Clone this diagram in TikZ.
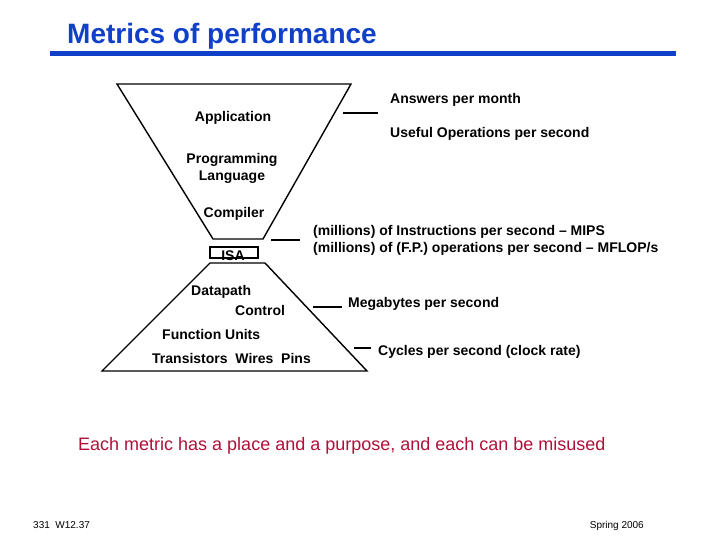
\documentclass[tikz,border=0pt]{standalone}
\usepackage{fontspec}
\setmainfont{Liberation Sans}
\usepackage{xcolor}
\definecolor{sblue}{HTML}{1040C8}
\definecolor{sred}{HTML}{B01038}
\tikzset{
  lbl/.style={font=\bfseries\fontsize{14}{17}\selectfont, inner sep=0pt, align=center},
  lbll/.style={lbl, anchor=west, align=left},
  tick/.style={line width=1.2pt},
  funnel/.style={line width=1.4pt},
}
\begin{document}
\begin{tikzpicture}[x=1pt,y=-1pt]
		\useasboundingbox (0,0) rectangle (720,540);
		% title and bar
		\node[anchor=west, inner sep=0pt, text=sblue, font=\bfseries\fontsize{28}{30}\selectfont] (title) at (67,36) {Metrics of performance};
		\fill[sblue] (50,51) rectangle (676,56);
		% hourglass
		\draw[funnel] (117,84) -- (351,84) -- (263,239) -- (213,239) -- cycle;
		\draw[funnel] (210,263) -- (265,263) -- (367,371) -- (102,371) -- cycle;
		\draw[line width=1.2pt] (210,247) rectangle (258,258);
		% levels
		\node[lbl] (app) at (233,118) {Application};
		\node[lbl] (lang) at (232,168.5) {Programming\\Language};
		\node[lbl] (comp) at (234,214) {Compiler};
		\node[lbl] (isa) at (233,256) {ISA};
		\node[lbll] (dp) at (191,292) {Datapath};
		\node[lbll] (ctrl) at (235,310) {Control};
		\node[lbll] (fu) at (162,334) {Function Units};
		\node[lbll] (twp) at (152,358) {Transistors\ \ Wires\ \ Pins};
		% metrics
		\node[lbll] (ans) at (390,100) {Answers per month};
		\node[lbll] (useful) at (390,134) {Useful Operations per second};
		\node[lbll] (mips) at (313,240.5) {(millions) of Instructions per second -- MIPS\\(millions) of (F.P.) operations per second -- MFLOP/s};
		\node[lbll] (mbps) at (348,304) {Megabytes per second};
		\node[lbll] (cyc) at (378,352) {Cycles per second (clock rate)};
		\draw[tick] (343,113) -- (378,113);
		\draw[tick] (271,240) -- (300,240);
		\draw[tick] (313,307) -- (342,307);
		\draw[tick] (354,348) -- (371,348);
		% message and footer
		\node[anchor=west, inner sep=0pt, text=sred, font=\fontsize{18}{20}\selectfont] (msg) at (78,446) {Each metric has a place and a purpose, and each can be misused};
		\node[anchor=base west, inner sep=0pt, font=\fontsize{10}{12}\selectfont] (num) at (33,528) {331\ \ W12.37};
		\node[anchor=base east, inner sep=0pt, font=\fontsize{10}{12}\selectfont] (term) at (644,528) {Spring 2006};
	\end{tikzpicture}
\end{document}
